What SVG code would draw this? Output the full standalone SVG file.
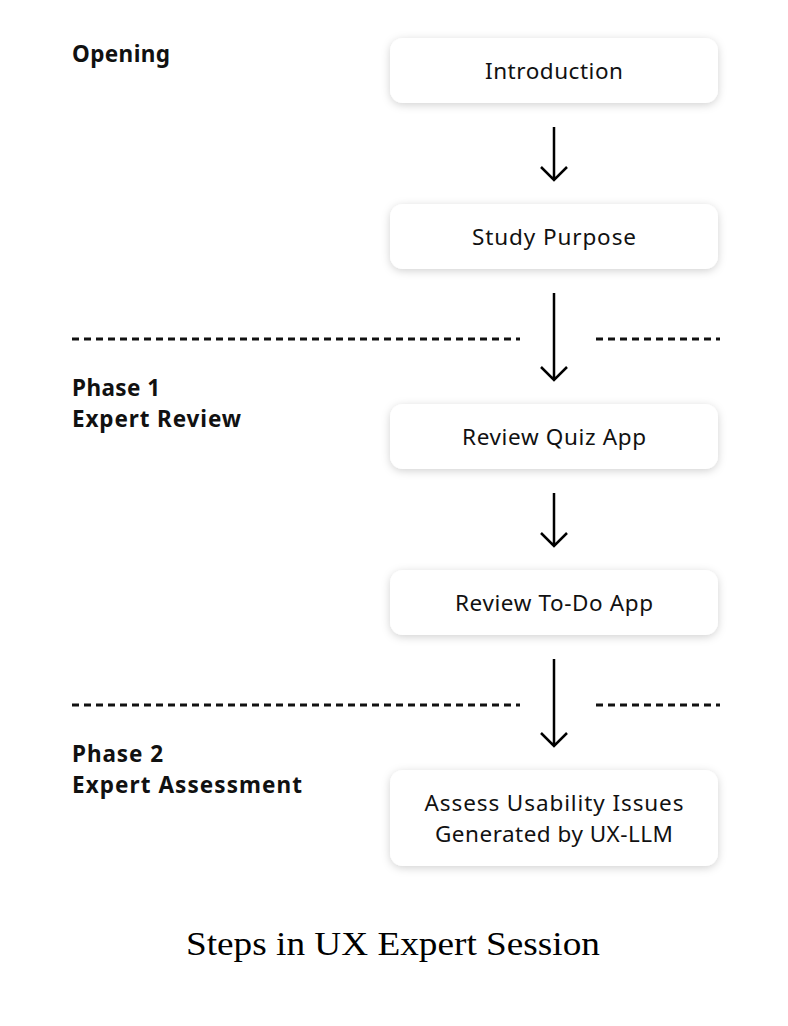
<svg xmlns="http://www.w3.org/2000/svg" width="788" height="1026" viewBox="0 0 788 1026">
<style>
.box{fill:#fff;filter:url(#sh)}
.bt{font-family:"Noto Sans","Liberation Sans",sans-serif;font-size:22.5px;fill:#111;text-anchor:middle}
.lab{font-family:"Noto Sans","Liberation Sans",sans-serif;font-size:22.5px;font-weight:700;fill:#111}
.dash{stroke:#111;stroke-width:3;stroke-dasharray:7 5;fill:none}
.arr{stroke:#000;stroke-width:2.5;fill:none}
</style>
<defs>
<filter id="sh" x="-20%" y="-40%" width="140%" height="180%">
<feDropShadow dx="0" dy="2" stdDeviation="4" flood-color="#000" flood-opacity="0.18"/>
</filter>
</defs>
<rect width="788" height="1026" fill="#fff"/>
<g id="labels">
<text class="lab" x="72" y="62" textLength="98">Opening</text>
<text class="lab" x="72" y="396" textLength="88">Phase 1</text>
<text class="lab" x="72" y="427" textLength="169">Expert Review</text>
<text class="lab" x="72" y="762" textLength="91">Phase 2</text>
<text class="lab" x="72" y="793" textLength="230">Expert Assessment</text>
</g>
<g id="separators">
<line class="dash" x1="72" y1="339" x2="520" y2="339"/>
<line class="dash" x1="596" y1="339" x2="720" y2="339"/>
<line class="dash" x1="72" y1="705" x2="520" y2="705"/>
<line class="dash" x1="596" y1="705" x2="720" y2="705"/>
</g>
<g id="n1"><rect class="box" x="390" y="38" width="328" height="65" rx="13"/><text class="bt" x="554" y="79" textLength="138">Introduction</text></g>
<g id="n2"><rect class="box" x="390" y="204" width="328" height="65" rx="13"/><text class="bt" x="554" y="245" textLength="164">Study Purpose</text></g>
<g id="n3"><rect class="box" x="390" y="404" width="328" height="65" rx="13"/><text class="bt" x="554" y="445" textLength="184">Review Quiz App</text></g>
<g id="n4"><rect class="box" x="390" y="570" width="328" height="65" rx="13"/><text class="bt" x="554" y="611" textLength="198">Review To-Do App</text></g>
<g id="n5"><rect class="box" x="390" y="770" width="328" height="96" rx="13"/><text class="bt" x="554" y="811" textLength="259">Assess Usability Issues</text><text class="bt" x="554" y="842" textLength="238">Generated by UX-LLM</text></g>
<g id="connectors">
<path class="arr" d="M554 127V179M541 167L554 180L567 167"/>
<path class="arr" d="M554 293V379M541 367L554 380L567 367"/>
<path class="arr" d="M554 493V545M541 533L554 546L567 533"/>
<path class="arr" d="M554 659V745M541 733L554 746L567 733"/>
</g>
<text x="393" y="955" font-family="Liberation Serif,serif" font-size="34" fill="#000" text-anchor="middle" textLength="414" lengthAdjust="spacingAndGlyphs">Steps in UX Expert Session</text>
</svg>
